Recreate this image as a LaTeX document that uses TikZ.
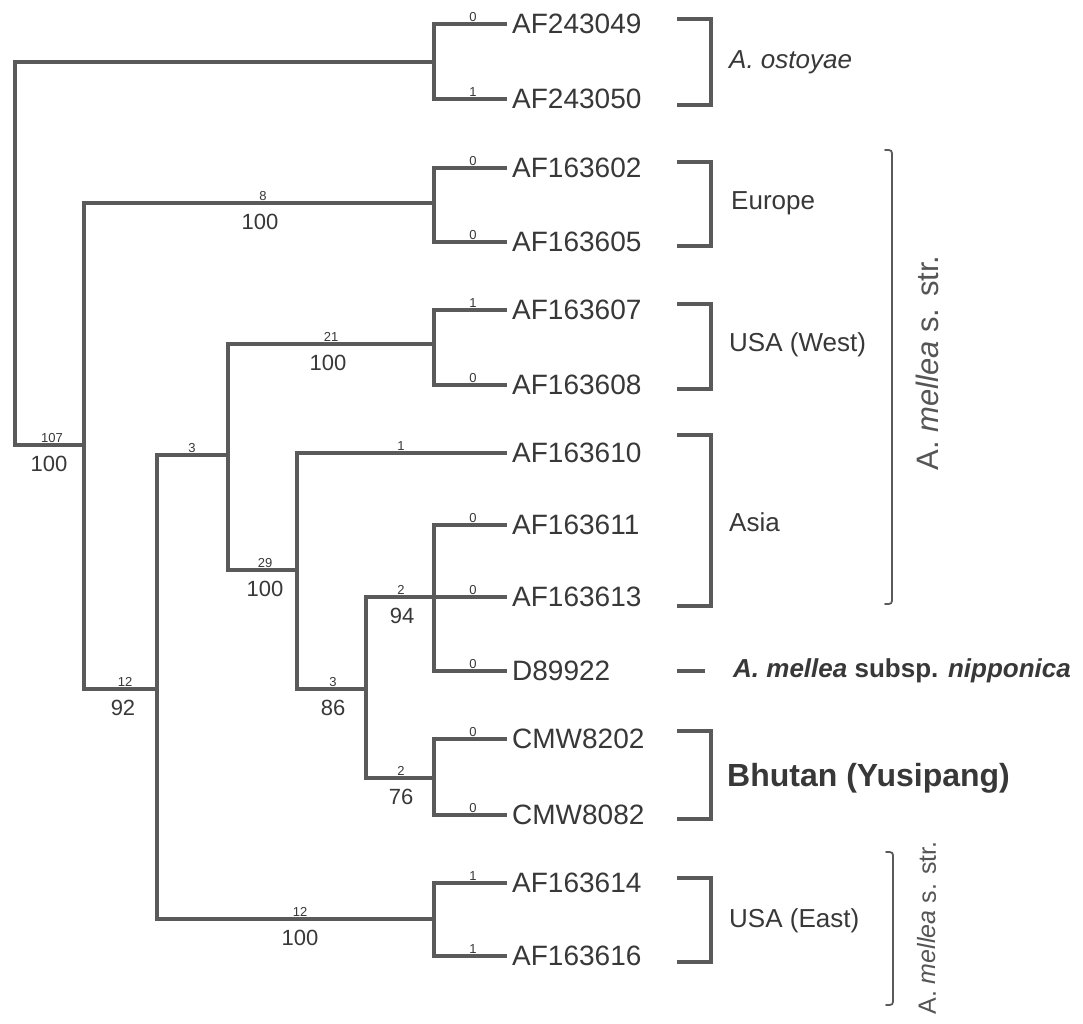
\documentclass[tikz,border=0pt]{standalone}
\usepackage{fontspec}
\setmainfont{Liberation Sans}
\usetikzlibrary{positioning}
\definecolor{phLine}{HTML}{5A5A5A}
\definecolor{phText}{HTML}{383838}
\definecolor{phSoft}{HTML}{555555}
\tikzset{
  branch/.style={draw=phLine, line width=4.5pt},
  bracket/.style={draw=phLine, line width=4.5pt},
  curly/.style={draw=phLine, line width=1.8pt, line cap=round},
  taxon/.style={anchor=west, inner sep=5pt, text=phText, font=\fontsize{28}{30}\selectfont},
  brlen/.style={anchor=south, inner sep=1pt, text=phText, font=\fontsize{13}{14}\selectfont},
  boot/.style={inner sep=0pt, text=phText, font=\fontsize{22}{24}\selectfont},
  group/.style={anchor=west, inner sep=0pt, text=phText, font=\fontsize{26}{28}\selectfont},
  sstr/.style={rotate=90, inner sep=0pt, text=phSoft}
}

\begin{document}
\begin{tikzpicture}[x=1pt, y=-1pt]
    \fill[white] (0,0) rectangle (1083,1023);
    \useasboundingbox (0,0) rectangle (1083,1023);

    \foreach \nm/\yy/\tx in {t1/24/AF243049, t2/99/AF243050, t3/168/AF163602, t4/242/AF163605,
        t5/310/AF163607, t6/385/AF163608, t7/453/AF163610, t8/525/AF163611, t9/597/AF163613,
        t10/671/D89922, t11/739/CMW8202, t12/815/CMW8082, t13/883/AF163614, t14/956/AF163616}
        \node[taxon] (\nm) at (507,\yy) {\tx};

    \coordinate (nOst) at (434,62);
    \coordinate (nEur) at (434,203);
    \coordinate (nWest) at (434,344);
    \coordinate (nMel) at (434,597);
    \coordinate (nBhu) at (434,778);
    \coordinate (nEast) at (434,919);
    \coordinate (n86) at (366,689);
    \coordinate (n29) at (297,570);
    \coordinate (n3) at (228,455);
    \coordinate (nB) at (157,689);
    \coordinate (nA) at (84,445);
    \coordinate (root) at (15,250);

    \draw[branch] (t1.west) -| (nOst) |- (t2.west);
    \draw[branch] (t3.west) -| (nEur) |- (t4.west);
    \draw[branch] (t5.west) -| (nWest) |- (t6.west);
    \draw[branch] (t8.west) -| (nMel) |- (t10.west);
    \draw[branch] (nMel) -- (t9.west);
    \draw[branch] (t11.west) -| (nBhu) |- (t12.west);
    \draw[branch] (t13.west) -| (nEast) |- (t14.west);
    \draw[branch] (nMel) -| (n86) |- (nBhu);
    \draw[branch] (t7.west) -| (n29) |- (n86);
    \draw[branch] (nWest) -| (n3) |- (n29);
    \draw[branch] (n3) -| (nB) |- (nEast);
    \draw[branch] (nEur) -| (nA) |- (nB);
    \draw[branch] (nOst) -| (root) |- (nA);

    \foreach \xx/\yy/\tx [count=\i] in {473/24/0, 473/99/1, 473/168/0, 473/242/0, 473/310/1, 473/385/0,
        401/453/1, 473/525/0, 473/597/0, 473/671/0, 473/739/0, 473/815/0, 473/883/1, 473/956/1,
        52/445/107, 263/203/8, 331/344/21, 192/455/3, 265/570/29, 401/597/2, 125/689/12,
        333/689/3, 401/778/2, 300/919/12}
        \node[brlen] (len\i) at (\xx,\yy-1) {\tx};

    \foreach \xx/\yy/\tx [count=\i] in {49/445/100, 260/203/100, 328/344/100, 265/570/100, 402/597/94,
        123/689/92, 333/689/86, 401/778/76, 300/919/100}
        \node[boot] (bs\i) at (\xx,\yy+19) {\tx};

    \draw[bracket] (677,19) -- (711,19) -- (711,105) -- (677,105);
    \draw[bracket] (677,162) -- (711,162) -- (711,246) -- (677,246);
    \draw[bracket] (677,304) -- (711,304) -- (711,389) -- (677,389);
    \draw[bracket] (677,435) -- (711,435) -- (711,606) -- (677,606);
    \draw[bracket] (677,671) -- (705,671);
    \draw[bracket] (677,731) -- (711,731) -- (711,819) -- (677,819);
    \draw[bracket] (677,878) -- (711,878) -- (711,962) -- (677,962);

    \node[group] (gOst) at (729,62) {\textit{A. ostoyae}};
    \node[group] (gEur) at (731,203) {Europe};
    \node[group] (gWest) at (729,345) {USA (West)};
    \node[group] (gAsia) at (729,522) {Asia};
    \node[group] (gNip) at (733,671) {\textbf{\textit{A. mellea} subsp. \textit{nipponica}}};
    \node[group, font=\bfseries\fontsize{32}{34}\selectfont] (gBhu) at (727,778) {Bhutan (Yusipang)};
    \node[group] (gEast) at (729,921) {USA (East)};

    \draw[curly] (885,150) .. controls (892,150) .. (892,157) -- (892,597) .. controls (892,604) .. (885,604);
    \draw[curly] (886,852) .. controls (893,852) .. (893,859) -- (893,998) .. controls (893,1005) .. (886,1005);
    \node[sstr, font=\fontsize{31}{33}\selectfont] (sstr1) at (927,363) {A. \textit{mellea} s. str.};
    \node[sstr, font=\fontsize{25}{27}\selectfont] (sstr2) at (927,928) {A. \textit{mellea} s. str.};
\end{tikzpicture}
\end{document}
